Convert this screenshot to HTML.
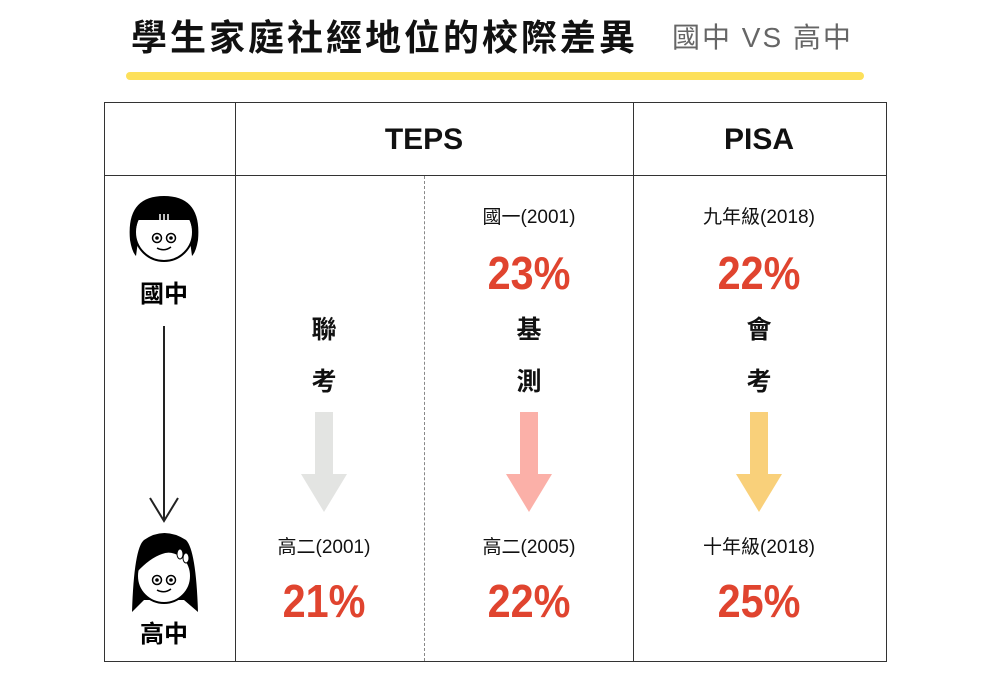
<!DOCTYPE html>
<html><head><meta charset="utf-8">
<style>
body{margin:0;width:990px;height:676px;background:#fff;position:relative;overflow:hidden;font-family:"Liberation Sans","Noto Sans CJK TC",sans-serif;color:#111}
.a{position:absolute;white-space:nowrap}
.c{transform:translateX(-50%)}
.lab{font-size:19px;line-height:24px}
.pct{font-size:46px;font-weight:bold;color:#e0442f;line-height:50px;transform:translateX(-50%) scaleX(0.9)}
.ch{font-size:25px;font-weight:bold;line-height:30px}
</style></head><body>
<div class="a" style="left:131px;top:15px;font-size:36px;font-weight:bold;letter-spacing:3px;line-height:46px">學生家庭社經地位的校際差異</div>
<div class="a" style="left:672px;top:20px;font-size:28px;letter-spacing:2px;color:#666;line-height:36px">國中 VS 高中</div>
<div class="a" style="left:126px;top:72px;width:738px;height:8px;border-radius:4px;background:#fde05a"></div>
<div class="a" style="left:104px;top:102px;width:781px;height:558px;border:1px solid #333"></div>
<div class="a" style="left:104px;top:175px;width:782px;height:1px;background:#333"></div>
<div class="a" style="left:235px;top:102px;width:1px;height:559px;background:#333"></div>
<div class="a" style="left:633px;top:102px;width:1px;height:559px;background:#333"></div>
<div class="a" style="left:424px;top:176px;width:0;height:485px;border-left:1px dashed #888"></div>
<div class="a c" style="left:424px;top:122px;font-size:30px;font-weight:bold;line-height:36px">TEPS</div>
<div class="a c" style="left:759px;top:122px;font-size:30px;font-weight:bold;line-height:36px">PISA</div>
<svg class="a" style="left:104px;top:176px" width="131" height="484">
 <g>
  <path d="M26 64 Q22 20 60 20 Q98 20 94 64 Q92 76 88 80 L84 50 L36 50 L32 80 Q28 76 26 64Z" fill="#000"/>
  <circle cx="60" cy="56" r="29" fill="#fff" stroke="#000" stroke-width="2"/>
  <path d="M31 56 Q31 22 60 22 Q89 22 89 56 L86 44 L34 44 Z" fill="#000"/>
  <path d="M56 38 V46 M60 38 V46 M64 38 V46" stroke="#fff" stroke-width="1.5"/>
  <circle cx="53" cy="62" r="4.5" fill="#fff" stroke="#000" stroke-width="1.5"/><circle cx="53" cy="62" r="1.8"/>
  <circle cx="67" cy="62" r="4.5" fill="#fff" stroke="#000" stroke-width="1.5"/><circle cx="67" cy="62" r="1.8"/>
  <path d="M53 72 Q60 76 67 71" fill="none" stroke="#000" stroke-width="1.5"/>
 </g>
 <text x="60" y="126" text-anchor="middle" font-size="24" font-weight="bold" font-family="Liberation Sans,Noto Sans CJK TC,sans-serif">國中</text>
 <line x1="60" y1="150" x2="60" y2="345" stroke="#222" stroke-width="2"/>
 <path d="M46 322 L60 345 L74 322" fill="none" stroke="#222" stroke-width="2"/>
 <g>
  <path d="M28 436 Q30 372 40 364 Q60 350 82 364 Q92 374 94 436 L80 424 L40 424 Z" fill="#000"/>
  <circle cx="60" cy="400" r="27" fill="#fff" stroke="#000" stroke-width="2"/>
  <path d="M33 396 Q36 370 60 368 Q84 368 88 392 Q72 372 58 378 Q46 382 33 396Z" fill="#000"/>
  <ellipse cx="76" cy="378" rx="3" ry="5" fill="#fff" stroke="#000"/>
  <ellipse cx="82" cy="382" rx="3" ry="5" fill="#fff" stroke="#000"/>
  <circle cx="53" cy="404" r="4.5" fill="#fff" stroke="#000" stroke-width="1.5"/><circle cx="53" cy="404" r="1.8"/>
  <circle cx="67" cy="404" r="4.5" fill="#fff" stroke="#000" stroke-width="1.5"/><circle cx="67" cy="404" r="1.8"/>
  <path d="M53 414 Q60 418 67 413" fill="none" stroke="#000" stroke-width="1.5"/>
 </g>
 <text x="60" y="466" text-anchor="middle" font-size="24" font-weight="bold" font-family="Liberation Sans,Noto Sans CJK TC,sans-serif">高中</text>
</svg>
<div id="cols"></div>
<script>
const centers=[324,529,759];
const topLabels=["","國一(2001)","九年級(2018)"];
const topValues=[null,23,22];
const exams=[["聯","考"],["基","測"],["會","考"]];
const bottomLabels=["高二(2001)","高二(2005)","十年級(2018)"];
const bottomValues=[21,22,25];
const arrowColors=["#e3e4e2","#fbb0a8","#f9d07a"];
const root=document.getElementById('cols');
function add(html,name){const d=document.createElement('div');d.innerHTML=html;const el=d.firstChild;


root.appendChild(el);return el;}
centers.forEach((x,i)=>{
 if(topLabels[i]) add(`<div class="a c lab" style="left:${x}px;top:206px">${topLabels[i]}</div>`,'top-label');
 if(topValues[i]!==null) add(`<div class="a pct" style="left:${x}px;top:248px">${topValues[i]}%</div>`,'top-value');
 add(`<div class="a c ch" style="left:${x}px;top:315px">${exams[i][0]}</div>`,'exam-char-1');
 add(`<div class="a c ch" style="left:${x}px;top:367px">${exams[i][1]}</div>`,'exam-char-2');
 add(`<svg class="a" style="left:${x-25}px;top:412px" width="50" height="102"><path d="M16 0 H34 V62 H48 L25 100 L2 62 H16Z" fill="${arrowColors[i]}"/></svg>`,'down-arrow');
 add(`<div class="a c lab" style="left:${x}px;top:536px">${bottomLabels[i]}</div>`,'bottom-label');
 add(`<div class="a pct" style="left:${x}px;top:576px">${bottomValues[i]}%</div>`,'bottom-value');
});
</script>
</body></html>
